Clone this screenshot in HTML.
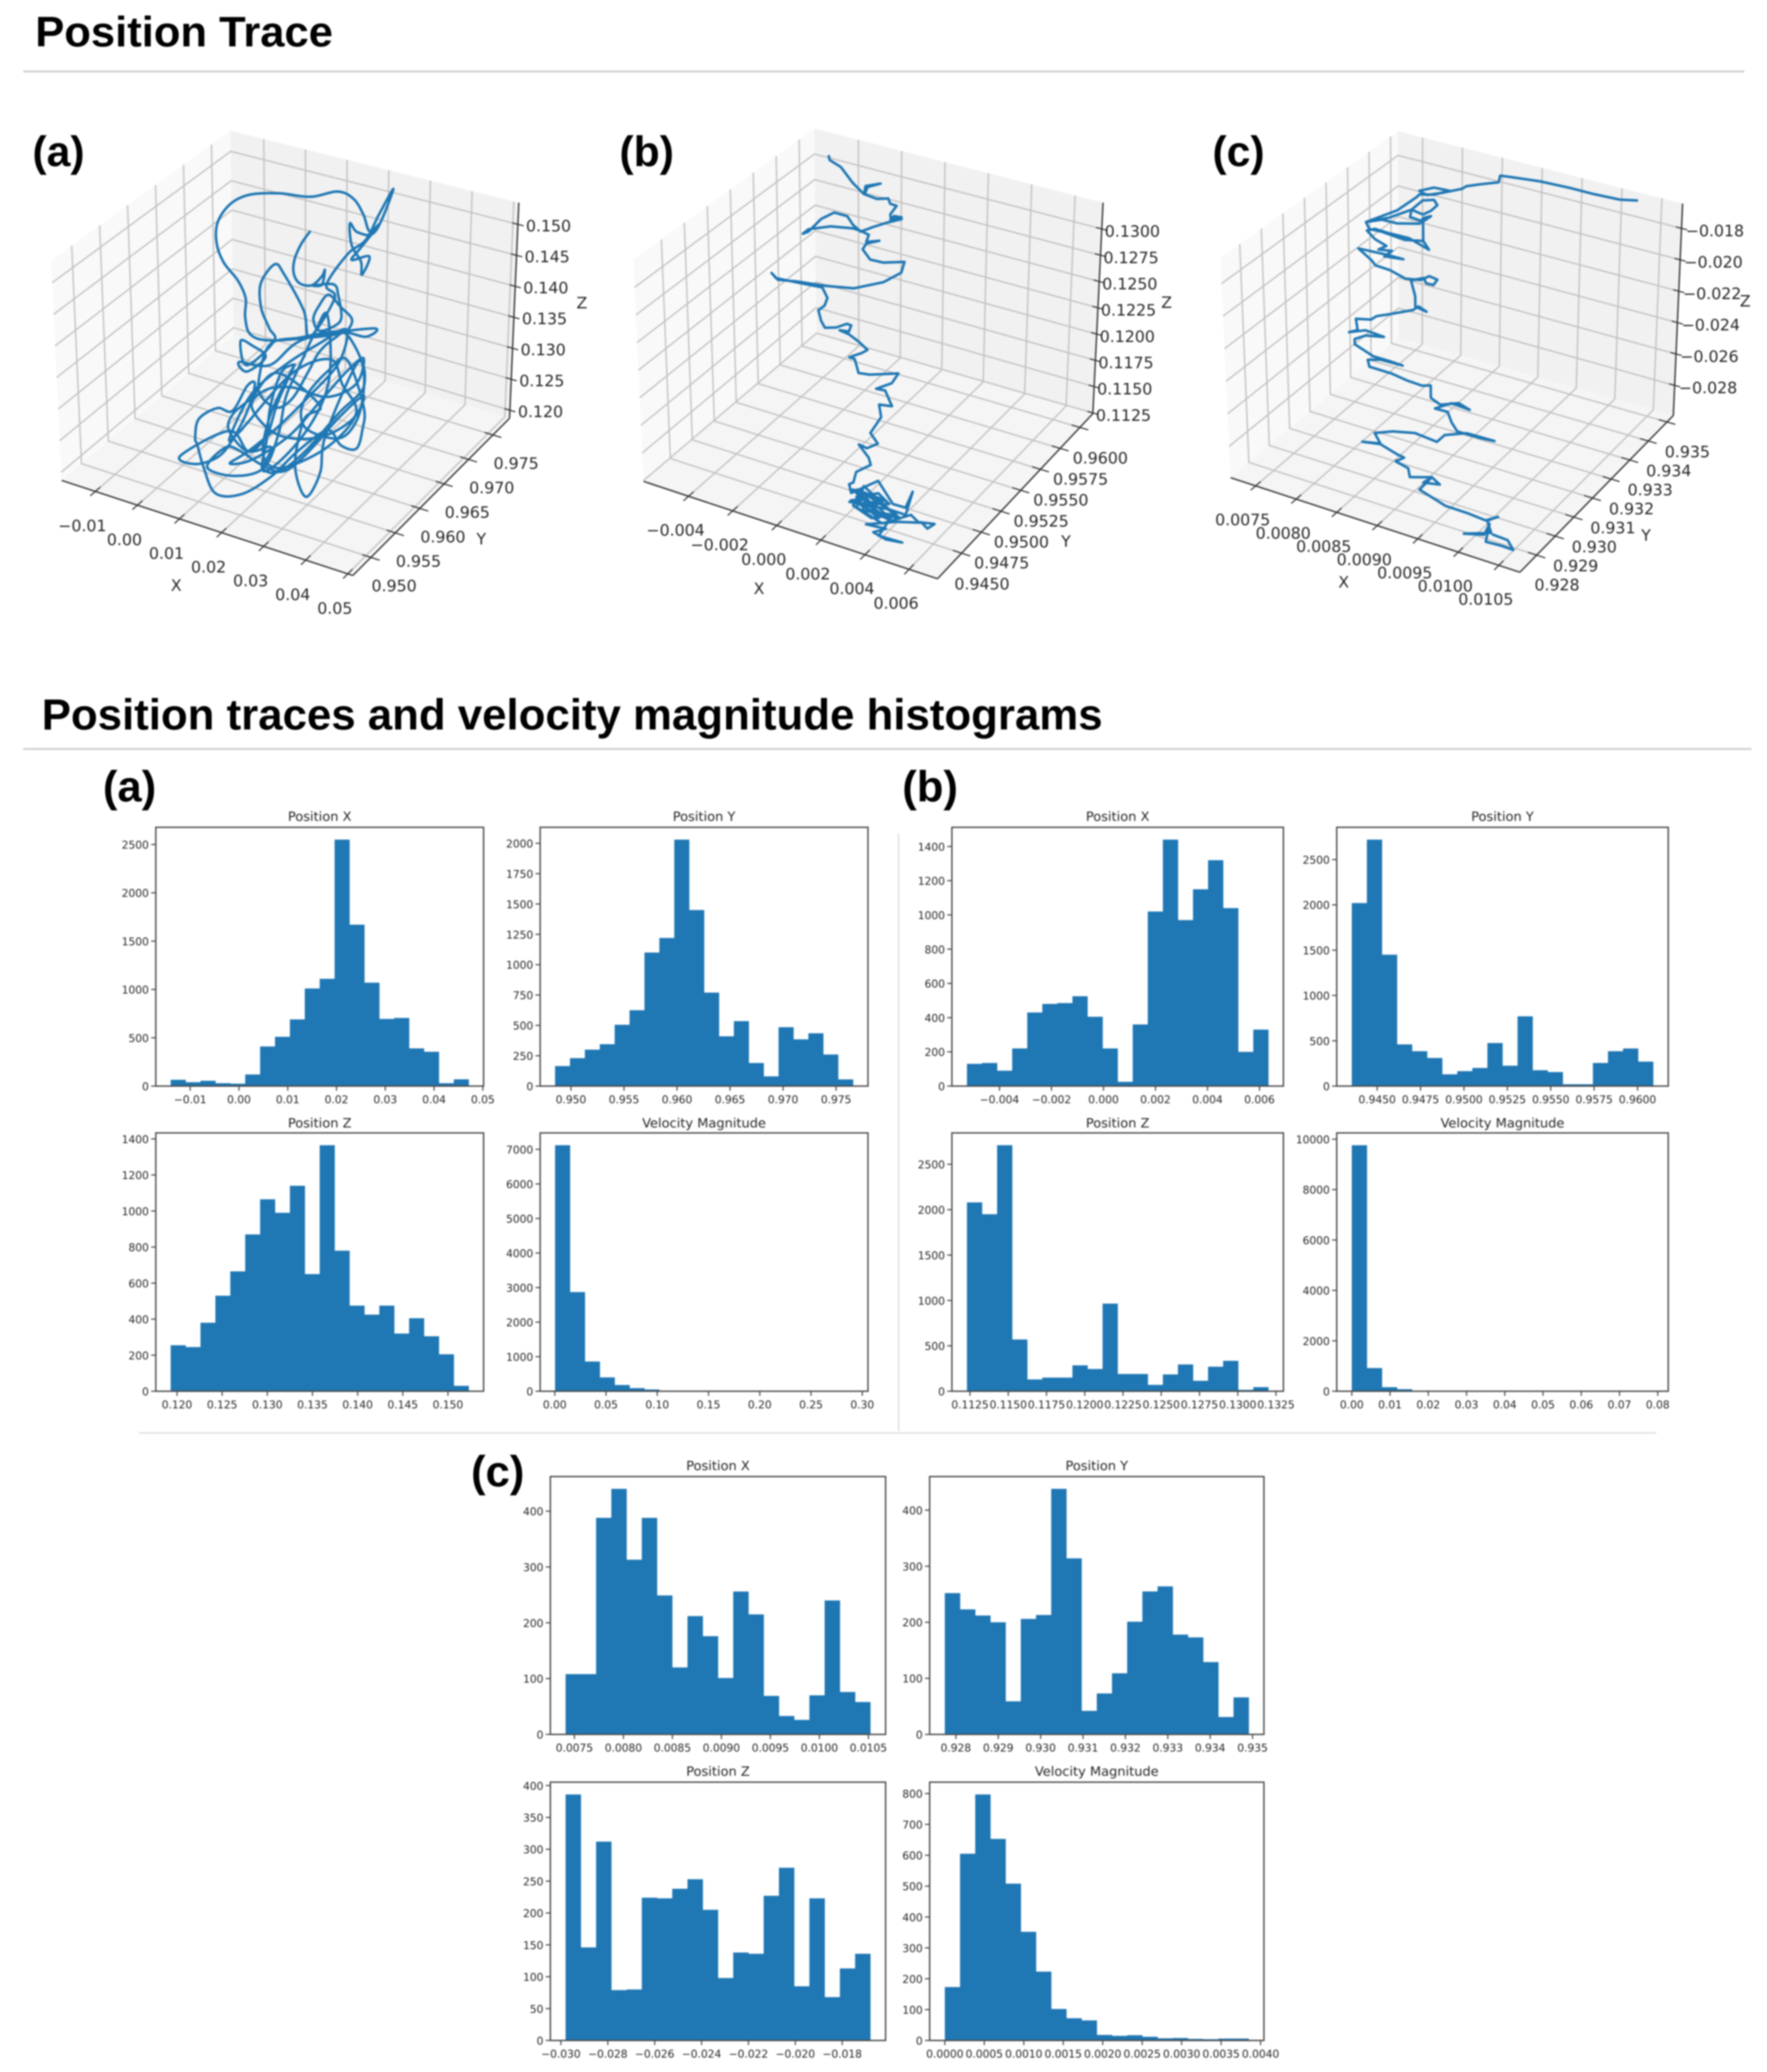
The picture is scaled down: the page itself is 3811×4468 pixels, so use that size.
<!DOCTYPE html>
<html lang="en">
<head>
<meta charset="utf-8">
<title>Position traces and velocity magnitude histograms</title>
<style>
html,body{margin:0;padding:0;background:#fff;}
svg{display:block;filter:blur(1.5px);}
.head{font-family:"Liberation Sans",sans-serif;font-weight:700;fill:#000;}
.mpl{font-family:"DejaVu Sans",sans-serif;fill:#262626;}
</style>
</head>
<body>
<svg id="figure" xmlns="http://www.w3.org/2000/svg" width="3811" height="4468" viewBox="0 0 3811 4468">
  <rect x="0" y="0" width="3811" height="4468" fill="#ffffff"/>
  <text class="head" x="76" y="100" font-size="92" textLength="642" lengthAdjust="spacingAndGlyphs">Position Trace</text>
  <line x1="50" y1="154" x2="3762" y2="154" stroke="#cfcfcf" stroke-width="4"/>
  <text class="head" x="70" y="358" font-size="92">(a)</text>
  <text class="head" x="1336" y="358" font-size="92">(b)</text>
  <text class="head" x="2615" y="358" font-size="92">(c)</text>
  <text class="head" x="90" y="1573" font-size="94" textLength="2288" lengthAdjust="spacingAndGlyphs">Position traces and velocity magnitude histograms</text>
  <line x1="50" y1="1615" x2="3778" y2="1615" stroke="#cfcfcf" stroke-width="4"/>
  <line x1="1938" y1="1797" x2="1938" y2="3086" stroke="#dddddd" stroke-width="3"/>
  <line x1="300" y1="3090" x2="3572" y2="3090" stroke="#dddddd" stroke-width="3"/>
  <text class="head" x="222" y="1728" font-size="94">(a)</text>
  <text class="head" x="1946" y="1728" font-size="94">(b)</text>
  <text class="head" x="1016" y="3205" font-size="94">(c)</text>
</svg>
<script>
/* ---------- histogram data ---------- */
const histAXCounts=[65,40,55,30,25,120,410,510,690,1010,1110,2550,1670,1070,695,705,390,355,30,70];
const histAYCounts=[165,230,300,345,505,625,1100,1220,2030,1450,770,410,535,190,80,485,385,435,260,55];
const histAZCounts=[255,245,380,530,665,870,1065,990,1140,650,1365,780,475,425,475,320,405,305,205,30];
const histAVCounts=[7120,2870,860,400,180,90,50,20,10,5,3,2,1,1,1,1,1,0,0,1];
const histBXCounts=[130,135,90,220,430,480,485,525,405,220,25,360,1020,1440,970,1150,1320,1040,200,330];
const histBYCounts=[2020,2720,1450,460,385,310,130,165,200,475,225,770,175,155,20,20,255,385,415,270];
const histBZCounts=[2080,1950,2710,570,130,150,150,285,245,965,190,190,70,185,295,115,270,335,15,45];
const histBVCounts=[9760,920,160,80,20,10,5,3,2,1,1,1,1,0,0,0,0,0,0,1];
const histCXCounts=[108,108,388,440,313,388,249,120,212,176,101,256,215,69,33,26,70,240,76,58];
const histCYCounts=[252,223,212,200,59,206,213,438,314,42,73,109,201,255,264,178,173,129,31,66];
const histCZCounts=[386,146,312,79,80,224,223,238,253,205,98,138,136,227,271,85,223,68,113,136];
const histCVCounts=[173,605,797,653,508,352,223,102,72,65,18,15,17,12,7,8,5,4,6,6];

const histAXRange=[-0.0140,0.0471];
const histAYRange=[0.9485,0.9766];
const histAZRange=[0.1193,0.1523];
const histAVRange=[0.0003,0.2910];
const histBXRange=[-0.00525,0.00634];
const histBYRange=[0.94354,0.96090];
const histBZRange=[0.1123,0.1320];
const histBVRange=[0,0.0788];
const histCXRange=[0.00741,0.01052];
const histCYRange=[0.92774,0.93491];
const histCZRange=[-0.0298,-0.0168];
const histCVRange=[0.0000,0.00385];

const histAXTicks=['\u22120.01','0.00','0.01','0.02','0.03','0.04','0.05'];
const histAYTicks=['0.950','0.955','0.960','0.965','0.970','0.975'];
const histAZTicks=['0.120','0.125','0.130','0.135','0.140','0.145','0.150'];
const histAVTicks=['0.00','0.05','0.10','0.15','0.20','0.25','0.30'];
const histBXTicks=['\u22120.004','\u22120.002','0.000','0.002','0.004','0.006'];
const histBYTicks=['0.9450','0.9475','0.9500','0.9525','0.9550','0.9575','0.9600'];
const histBZTicks=['0.1125','0.1150','0.1175','0.1200','0.1225','0.1250','0.1275','0.1300','0.1325'];
const histBVTicks=['0.00','0.01','0.02','0.03','0.04','0.05','0.06','0.07','0.08'];
const histCXTicks=['0.0075','0.0080','0.0085','0.0090','0.0095','0.0100','0.0105'];
const histCYTicks=['0.928','0.929','0.930','0.931','0.932','0.933','0.934','0.935'];
const histCZTicks=['\u22120.030','\u22120.028','\u22120.026','\u22120.024','\u22120.022','\u22120.020','\u22120.018'];
const histCVTicks=['0.0000','0.0005','0.0010','0.0015','0.0020','0.0025','0.0030','0.0035','0.0040'];

const countTicks2500=[0,500,1000,1500,2000,2500];
const countTicks2000=[0,250,500,750,1000,1250,1500,1750,2000];
const countTicks1400=[0,200,400,600,800,1000,1200,1400];
const countTicks7000=[0,1000,2000,3000,4000,5000,6000,7000];
const countTicks10000=[0,2000,4000,6000,8000,10000];
const countTicks400=[0,100,200,300,400];
const countTicks400Fine=[0,50,100,150,200,250,300,350,400];
const countTicks800=[0,100,200,300,400,500,600,700,800];

/* ---------- 3D trace data ---------- */
const traceAX=[.0220,.0199,.0183,.0181,.0195,.0224,.0248,.0255,.0248,.0227,
.0276,.0287,.0294,.0278,.0241,.0227,.0241,.0264,.0292,.0319,
.0310,.0287,.0222,.0121,.0075,.0063,.0065,.0047,.0014,-.0002,
.0002,.0033,.0079,.0148,.0222,.0287,.0324,.0347,.0361,.0384,
.0338,.0319,.0361,.0343,.0341,.0319,.0315,.0333,.0375,.0417,
.0384,.0352,.0310,.0259,.0278,.0218,.0204,.0158,.0136,.0102,
.0102,.0121,.0132,.0065,.0051,.0079,.0111,.0065,.0047,.0121,
.0204,.0370,.0352,.0287,.0195,.0121,.0093,.0102,.0139,.0176,
.0213,.0241,.0278,.0306,.0343,.0347,.0329,.0287,.0213,.0195,
.0213,.0259,.0306,.0347,.0344,.0329,.0292,.0259,.0185,.0121,
.0047,-.0018,-.0046,-.0060,-.0065,-.0055,-.0009,.0028,.0065,.0084,
.0065,.0028,-.0009,-.0065,-.0103,.0019,.0065,.0121,.0102,.0139,
.0204,.0287,.0347,.0333,
.0255,.0241,.0208,.0185,.0181,.0204,.0241,.0139,.0075,.0028,
.0019,.0065,.0111,.0139,.0181,.0121,.0102,.0148,.0259,.0329,
.0296,.0268,.0176,.0065,.0047,
.0019,.0075,.0158,.0241,.0306,.0287,.0213,.0139,.0065,.0019,
.0075,.0167,.0241,.0306,.0347,.0329,.0259,.0176,.0111,.0075,
.0121,.0185,.0259,.0324,.0347,.0287,.0204,.0148,.0093,.0047,
.0010,-.0037,.0028,.0102,.0139,.0158,.0185,.0204,.0232,.0259,
.0268,.0259,.0227,.0176,.0121,.0098,.0111,.0121,.0148,.0176];
const traceAZ=[.1543,.1520,.1493,.1471,.1458,.1460,.1478,.1489,.1465,.1460,
.1470,.1454,.1422,.1406,.1392,.1408,.1431,.1452,.1438,.1424,
.1406,.1395,.1378,.1355,.1356,.1382,.1412,.1437,.1460,.1489,
.1523,.1557,.1579,.1592,.1598,.1616,.1610,.1589,.1566,.1580,
.1535,.1515,.1527,.1496,.1516,.1538,.1571,.1560,.1568,.1639,
.1596,.1551,.1523,.1467,.1449,.1378,.1417,.1466,.1478,.1442,
.1403,.1374,.1356,.1305,.1341,.1339,.1327,.1295,.1307,.1316,
.1372,.1418,.1402,.1399,.1373,.1348,.1284,.1260,.1252,.1275,
.1322,.1359,.1387,.1398,.1361,.1316,.1267,.1233,.1231,.1253,
.1289,.1331,.1359,.1294,.1257,.1225,.1223,.1240,.1192,.1140,
.1096,.1083,.1119,.1152,.1162,.1195,.1222,.1225,.1272,.1279,
.1233,.1180,.1144,.1120,.1125,.1191,.1168,.1186,.1149,.1151,
.1196,.1272,.1323,.1359,
.1232,.1171,.1126,.1147,.1185,.1248,.1275,.1307,.1255,.1219,
.1191,.1168,.1203,.1261,.1328,.1238,.1169,.1159,.1214,.1280,
.1318,.1352,.1314,.1214,.1197,
.1178,.1261,.1323,.1372,.1405,.1350,.1283,.1222,.1168,.1139,
.1157,.1214,.1281,.1340,.1368,.1325,.1292,.1291,.1275,.1242,
.1212,.1212,.1233,.1272,.1310,.1265,.1190,.1153,.1154,.1164,
.1163,.1121,.1121,.1149,.1209,.1271,.1316,.1346,.1390,.1422,
.1359,.1305,.1252,.1197,.1153,.1148,.1197,.1251,.1309,.1327];
const traceADepthY=0.96235;

const traceBX=[-.00121,-.00118,-.00067,-.00016,.00036,.00044,.00112,.00053,.00039,.00095,
.00146,.00155,.00184,.00155,.00158,.00206,.00172,.00155,.00206,.00138,
.00078,.00019,-.00016,-.00041,-.00101,-.00161,-.0022,-.00246,-.0022,-.00118,
-.00016,.00019,.00056,.00044,.00104,.00044,.00027,.00061,.00121,.00218,
.00203,.00121,-.00016,-.00152,-.00271,-.00365,-.00394,-.00374,-.00271,-.00161,
-.00138,-.00152,-.00181,-.00169,-.00152,-.00101,-.0005,-.0003,-.00041,-.00084,
-.00041,.00001,.00044,.00019,-.00041,-.00016,.00001,.00053,.00186,.00155,
.00082,.00124,.00155,.00095,.00104,.00053,.00087,.00036,-.00002,.00044,
.00053,-.00016,-.0003,-.0005,-.00041,.00087,.00155,.00215,.00249,.00215,
.00138,-.0005,.00053,.00146,.00019,-.00016,.00104,.0024,.00274,.00351,
.00317,.00291,.00172,.00027,.00121,.00061,.00121,.00198,.00087,.00155,
.00019,-.00016,.00121,.00001,.00087,.00053,
-.00041,.00053,.00155,.00087,.00001,-.00033,.0007,.00172,.00053,-.00033,
.00019,.00121,.00189,.00104,.00019,-.00016,.00087,.00138,.00053,.00001];
const traceBZ=[.13857,.13823,.13783,.13668,.13587,.13666,.13723,.13661,.13588,.13574,
.13605,.13561,.13557,.13464,.13418,.13463,.13458,.13416,.13447,.13379,
.1331,.13235,.13279,.13345,.13347,.13256,.13107,.13074,.13129,.13211,
.13247,.13242,.13226,.13154,.13197,.13138,.13078,.13002,.13006,.13065,
.12959,.12828,.12696,.12645,.12616,.12581,.12628,.12591,.12606,.12624,
.1254,.12461,.12402,.12311,.12257,.12288,.12351,.12348,.12286,.12273,
.1226,.12221,.12166,.12124,.12049,.12048,.11929,.11944,.12032,.11925,
.11832,.11841,.11715,.11695,.11586,.1141,.11333,.1126,.11272,.11178,
.11118,.11011,.10906,.10877,.10802,.10993,.10824,.10827,.10994,.10762,
.10764,.10715,.10859,.10754,.10903,.10687,.10614,.10778,.10734,.10764,
.10701,.10738,.10672,.10558,.10576,.10507,.10479,.105,.10491,.10726,
.10676,.10849,.10835,.10731,.10653,.10729,
.10737,.10697,.10662,.1075,.10795,.10839,.10814,.10736,.10632,.10693,
.10838,.1077,.10715,.10695,.10773,.10784,.1088,.10813,.10762,.1086];
const traceBDepthY=0.9518;

const traceCX=[.01124,.01103,.0107,.01042,.01005,.00968,.00956,.00954,.0093,.00914,
.00909,.00884,.00865,.00856,.00874,.00893,.00874,.00856,.00852,.00828,
.00789,.00818,.00846,.0086,.00874,.00878,.0087,.0086,.00846,.00844,
.0086,.0087,.0086,.00856,.00828,.00809,.00789,.00793,.00809,.00837,
.0086,.0086,.0086,.00867,.00842,.00818,.008,.0079,.008,.00814,
.00804,.00821,.00811,.00835,.00814,.00779,.00795,.008,.00818,.00837,
.00856,.00867,.00877,.00872,.00863,.0086,.00844,.00849,.00849,.00863,
.00853,.00846,.00818,.008,.00793,.00774,.00776,.00765,.00786,.00809,
.00786,.00772,.00772,.00795,.00816,.00832,.00804,.00788,.0079,.00818,
.00837,.00856,.00867,.00867,.00879,.00902,.00916,.00893,.00872,.00888,
.00893,.009,.0093,.00947,.00912,.00884,.00874,.00846,.00818,.00795,
.00802,.00779,.00802,.00823,.00832,.00821,.00837,.00839,.00867,.00856,
.00877,.00867,.00851,.00884,.00912,.00935,.00951,.00937,.00942,.00907,
.00933,.0094,.00935,.00954,.0097,.00963,.00944];
const traceCZ=[-.01168,-.01188,-.01193,-.01191,-.01196,-.01214,-.01221,-.01264,-.01307,-.01338,
-.0136,-.01417,-.01455,-.0144,-.01397,-.01392,-.01441,-.01462,-.01486,-.01598,
-.01722,-.01656,-.0157,-.01494,-.01473,-.01501,-.01546,-.01582,-.0157,-.01618,
-.01626,-.01579,-.01604,-.01644,-.01679,-.01681,-.01722,-.0176,-.01757,-.0177,
-.01746,-.01626,-.01746,-.01791,-.01752,-.01754,-.0175,-.01774,-.01815,-.01838,
-.01874,-.0186,-.01907,-.01893,-.01893,-.01901,-.01953,-.01979,-.01984,-.02011,
-.01994,-.01955,-.01963,-.02003,-.02005,-.01976,-.02012,-.02103,-.02169,-.02181,
-.02162,-.02194,-.02258,-.02297,-.02328,-.0235,-.02418,-.02447,-.02405,-.02414,
-.02438,-.0248,-.02513,-.02555,-.02556,-.0256,-.02563,-.02587,-.02628,-.0263,
-.02645,-.0265,-.02633,-.0271,-.02735,-.02691,-.02713,-.02705,-.02768,-.02766,
-.02825,-.02869,-.02867,-.02859,-.02862,-.02915,-.02972,-.02959,-.02991,-.03036,
-.03091,-.03115,-.03095,-.03126,-.03134,-.03173,-.03192,-.03244,-.03202,-.03252,
-.03232,-.03202,-.03303,-.03353,-.03355,-.03364,-.03318,-.03361,-.0343,-.03489,
-.03455,-.03378,-.03495,-.03489,-.03491,-.03442,-.03437];
const traceCDepthY=0.93122;

const trace3dAXTicks=['\u22120.01','0.00','0.01','0.02','0.03','0.04','0.05'];
const trace3dAYTicks=['0.950','0.955','0.960','0.965','0.970','0.975'];
const trace3dAZTicks=['0.120','0.125','0.130','0.135','0.140','0.145','0.150'];
const trace3dBXTicks=['\u22120.004','\u22120.002','0.000','0.002','0.004','0.006'];
const trace3dBYTicks=['0.9450','0.9475','0.9500','0.9525','0.9550','0.9575','0.9600'];
const trace3dBZTicks=['0.1125','0.1150','0.1175','0.1200','0.1225','0.1250','0.1275','0.1300'];
const trace3dCXTicks=['0.0075','0.0080','0.0085','0.0090','0.0095','0.0100','0.0105'];
const trace3dCYTicks=['0.928','0.929','0.930','0.931','0.932','0.933','0.934','0.935'];
const trace3dCZTicks=['\u22120.028','\u22120.026','\u22120.024','\u22120.022','\u22120.020','\u22120.018'];

/* ---------- layout ---------- */
const histPanels=[
 {id:'a-position-x',title:'Position X',box:[336,1784,707,558],titleY:1770,counts:histAXCounts,range:histAXRange,xt:histAXTicks,yt:countTicks2500},
 {id:'a-position-y',title:'Position Y',box:[1165,1784,707,558],titleY:1770,counts:histAYCounts,range:histAYRange,xt:histAYTicks,yt:countTicks2000},
 {id:'a-position-z',title:'Position Z',box:[336,2443,707,557],titleY:2431,counts:histAZCounts,range:histAZRange,xt:histAZTicks,yt:countTicks1400},
 {id:'a-velocity',title:'Velocity Magnitude',box:[1165,2443,707,557],titleY:2431,counts:histAVCounts,range:histAVRange,xt:histAVTicks,yt:countTicks7000},
 {id:'b-position-x',title:'Position X',box:[2053,1784,715,558],titleY:1770,counts:histBXCounts,range:histBXRange,xt:histBXTicks,yt:countTicks1400},
 {id:'b-position-y',title:'Position Y',box:[2883,1784,715,558],titleY:1770,counts:histBYCounts,range:histBYRange,xt:histBYTicks,yt:countTicks2500},
 {id:'b-position-z',title:'Position Z',box:[2053,2443,715,557],titleY:2431,counts:histBZCounts,range:histBZRange,xt:histBZTicks,yt:countTicks2500},
 {id:'b-velocity',title:'Velocity Magnitude',box:[2883,2443,715,557],titleY:2431,counts:histBVCounts,range:histBVRange,xt:histBVTicks,yt:countTicks10000},
 {id:'c-position-x',title:'Position X',box:[1187,3184,723,556],titleY:3170,counts:histCXCounts,range:histCXRange,xt:histCXTicks,yt:countTicks400},
 {id:'c-position-y',title:'Position Y',box:[2005,3184,721,556],titleY:3170,counts:histCYCounts,range:histCYRange,xt:histCYTicks,yt:countTicks400},
 {id:'c-position-z',title:'Position Z',box:[1187,3843,723,557],titleY:3829,counts:histCZCounts,range:histCZRange,xt:histCZTicks,yt:countTicks400Fine},
 {id:'c-velocity',title:'Velocity Magnitude',box:[2005,3843,721,557],titleY:3829,counts:histCVCounts,range:histCVRange,xt:histCVTicks,yt:countTicks800}
];

const tracePlots=[
 {id:'a',smooth:true,xs:traceAX,zs:traceAZ,depth:traceADepthY,
  xlim:[-0.018,0.0512],ylim:[0.9463,0.9784],zlim:[0.1187,0.1535],
  xt:trace3dAXTicks,yt:trace3dAYTicks,zt:trace3dAZTicks,
  A:[133,1036],At:[110,562],K:[504,723],Kt:[497,282],B:[761,1241],Bt:[750,714],R:[1099,902],Rt:[1119,437],
  xOff:[-28,75],yOff:[50,62],zOff:[66,4],xLab:[380,1263],yLab:[1038,1163],zLab:[1255,654]},
 {id:'b',smooth:false,xs:traceBX,zs:traceBZ,depth:traceBDepthY,
  xlim:[-0.00604,0.00729],ylim:[0.94195,0.96164],zlim:[0.11243,0.1325],
  xt:trace3dBXTicks,yt:trace3dBYTicks,zt:trace3dBZTicks,
  A:[1388,1038],At:[1366,560],K:[1761,720],Kt:[1756,277],B:[2022,1248],Bt:[2006,732],R:[2357,892],Rt:[2379,437],
  xOff:[-28,74],yOff:[44,67],zOff:[66,6],xLab:[1637,1270],yLab:[2299,1168],zLab:[2516,653]},
 {id:'c',smooth:false,xs:traceCX,zs:traceCZ,depth:traceCDepthY,
  xlim:[0.00719,0.01076],ylim:[0.9271,0.93534],zlim:[-0.02992,-0.01642],
  xt:trace3dCXTicks,yt:trace3dCYTicks,zt:trace3dCZTicks,
  A:[2654,1030],At:[2632,556],K:[3016,728],Kt:[3015,283],B:[3278,1234],Bt:[3262,724],R:[3609,896],Rt:[3629,439],
  xOff:[-28,74],yOff:[44,65],zOff:[72,6],xLab:[2898,1256],yLab:[3550,1155],zLab:[3764,650]}
];

const NS='http://www.w3.org/2000/svg';
const BLUE='#1f77b4';
const root=document.getElementById('figure');

function make(parent,tag,attrs,text){
  const el=document.createElementNS(NS,tag);
  for(const k in attrs){el.setAttribute(k,attrs[k]);}
  if(text!==undefined){el.textContent=text;}
  parent.appendChild(el);
  return el;
}
function num(label){return parseFloat(String(label).replace('\u2212','-'));}

/* ---------- histograms ---------- */
function drawHist(p){
  const g=make(root,'g',{});
  
  
  const left=p.box[0],top=p.box[1],w=p.box[2],h=p.box[3];
  const lo=p.range[0],hi=p.range[1];
  const pad=(hi-lo)*0.05;
  const xScale=v=>left+(v-(lo-pad))/((hi-lo)+2*pad)*w;
  const yMax=Math.max.apply(null,p.counts)*1.05;
  const yScale=v=>top+h-(v/yMax)*h;
  const n=p.counts.length;
  const step=(hi-lo)/n;

  p.counts.forEach((c,i)=>{
    const x0=xScale(lo+i*step),x1=xScale(lo+(i+1)*step),y=yScale(c);
    const bar=make(g,'rect',{x:x0,y:y,width:x1-x0+0.4,height:top+h-y,fill:BLUE});
    
    
  });

  const frame=make(g,'rect',{x:left,y:top,width:w,height:h,fill:'none',stroke:'#4a4a4a','stroke-width':3});
  
  

  const title=make(g,'text',{x:left+w/2,y:p.titleY,'text-anchor':'middle','font-size':28,class:'mpl'},p.title);
  
  

  p.xt.forEach(label=>{
    const x=xScale(num(label));
    const tick=make(g,'line',{x1:x,y1:top+h,x2:x,y2:top+h+10,stroke:'#4a4a4a','stroke-width':2.5});
    
    
    const t=make(g,'text',{x:x,y:top+h+37,'text-anchor':'middle','font-size':23,class:'mpl'},label);
    
    
  });
  p.yt.forEach(v=>{
    const y=yScale(v);
    const tick=make(g,'line',{x1:left-10,y1:y,x2:left,y2:y,stroke:'#4a4a4a','stroke-width':2.5});
    
    
    const t=make(g,'text',{x:left-15,y:y+9,'text-anchor':'end','font-size':23,class:'mpl'},String(v));
    
    
  });
}
histPanels.forEach(drawHist);

/* ---------- 3D traces ---------- */
function projector(p){
  return function(x,y,z){
    const u=(x-p.xlim[0])/(p.xlim[1]-p.xlim[0]);
    const v=(y-p.ylim[0])/(p.ylim[1]-p.ylim[0]);
    const w=(z-p.zlim[0])/(p.zlim[1]-p.zlim[0]);
    const out=[0,0];
    for(let i=0;i<2;i++){
      const lowF=p.A[i]*(1-u)+p.B[i]*u, lowB=p.K[i]*(1-u)+p.R[i]*u;
      const topF=p.At[i]*(1-u)+p.Bt[i]*u, topB=p.Kt[i]*(1-u)+p.Rt[i]*u;
      const low=lowF*(1-v)+lowB*v, high=topF*(1-v)+topB*v;
      out[i]=low*(1-w)+high*w;
    }
    return out;
  };
}
function poly(pts){return pts.map(a=>a[0].toFixed(1)+','+a[1].toFixed(1)).join(' ');}
function smoothPath(pts){
  let d='M'+pts[0][0].toFixed(1)+' '+pts[0][1].toFixed(1);
  for(let i=0;i<pts.length-1;i++){
    const p0=pts[Math.max(0,i-1)],p1=pts[i],p2=pts[i+1],p3=pts[Math.min(pts.length-1,i+2)];
    const c1=[p1[0]+(p2[0]-p0[0])/6,p1[1]+(p2[1]-p0[1])/6];
    const c2=[p2[0]-(p3[0]-p1[0])/6,p2[1]-(p3[1]-p1[1])/6];
    d+=' C'+c1[0].toFixed(1)+' '+c1[1].toFixed(1)+' '+c2[0].toFixed(1)+' '+c2[1].toFixed(1)+' '+p2[0].toFixed(1)+' '+p2[1].toFixed(1);
  }
  return d;
}
function drawTrace(p){
  const g=make(root,'g',{});
  
  
  const P=projector(p);
  const [x0,x1]=p.xlim,[y0,y1]=p.ylim,[z0,z1]=p.zlim;
  const gridColor='#c2c2c2';

  const paneLeft=make(g,'polygon',{points:poly([P(x0,y0,z0),P(x0,y1,z0),P(x0,y1,z1),P(x0,y0,z1)]),fill:'#f9f9f9'});
  
  
  const paneBack=make(g,'polygon',{points:poly([P(x0,y1,z0),P(x1,y1,z0),P(x1,y1,z1),P(x0,y1,z1)]),fill:'#f1f1f1'});
  
  
  const paneFloor=make(g,'polygon',{points:poly([P(x0,y0,z0),P(x1,y0,z0),P(x1,y1,z0),P(x0,y1,z0)]),fill:'#f5f5f5'});
  
  

  p.xt.forEach(label=>{
    const v=num(label);
    const line=make(g,'polyline',{points:poly([P(v,y0,z0),P(v,y1,z0),P(v,y1,z1)]),fill:'none',stroke:gridColor,'stroke-width':3});
    
    
  });
  p.yt.forEach(label=>{
    const v=num(label);
    const line=make(g,'polyline',{points:poly([P(x1,v,z0),P(x0,v,z0),P(x0,v,z1)]),fill:'none',stroke:gridColor,'stroke-width':3});
    
    
  });
  p.zt.forEach(label=>{
    const v=num(label);
    const line=make(g,'polyline',{points:poly([P(x0,y0,v),P(x0,y1,v),P(x1,y1,v)]),fill:'none',stroke:gridColor,'stroke-width':3});
    
    
  });

  const axisX=make(g,'polyline',{points:poly([P(x0,y0,z0),P(x1,y0,z0)]),fill:'none',stroke:'#333','stroke-width':3});
  
  
  const axisY=make(g,'polyline',{points:poly([P(x1,y0,z0),P(x1,y1,z0)]),fill:'none',stroke:'#333','stroke-width':3});
  
  
  const axisZ=make(g,'polyline',{points:poly([P(x1,y1,z0),P(x1,y1,z1)]),fill:'none',stroke:'#333','stroke-width':3});
  
  

  const dy=(y1-y0)*0.03,dx=(x1-x0)*0.03,dxz=(x1-x0)*0.02;
  p.xt.forEach(label=>{
    const v=num(label),q=P(v,y0,z0);
    const tick=make(g,'polyline',{points:poly([P(v,y0+dy,z0),P(v,y0-dy,z0)]),fill:'none',stroke:'#333','stroke-width':2.5});
    
    
    const t=make(g,'text',{x:q[0]+p.xOff[0],y:q[1]+p.xOff[1],'text-anchor':'middle','dominant-baseline':'central','font-size':34,class:'mpl'},label);
    
    
  });
  p.yt.forEach(label=>{
    const v=num(label),q=P(x1,v,z0);
    const tick=make(g,'polyline',{points:poly([P(x1-dx,v,z0),P(x1+dx,v,z0)]),fill:'none',stroke:'#333','stroke-width':2.5});
    
    
    const t=make(g,'text',{x:q[0]+p.yOff[0],y:q[1]+p.yOff[1],'text-anchor':'middle','dominant-baseline':'central','font-size':34,class:'mpl'},label);
    
    
  });
  p.zt.forEach(label=>{
    const v=num(label),q=P(x1,y1,v);
    const tick=make(g,'polyline',{points:poly([P(x1-dxz,y1,v),P(x1+dxz,y1,v)]),fill:'none',stroke:'#333','stroke-width':2.5});
    
    
    const t=make(g,'text',{x:q[0]+p.zOff[0],y:q[1]+p.zOff[1],'text-anchor':'middle','dominant-baseline':'central','font-size':34,class:'mpl'},label);
    
    
  });

  const xTitle=make(g,'text',{x:p.xLab[0],y:p.xLab[1],'text-anchor':'middle','dominant-baseline':'central','font-size':34,class:'mpl'},'X');
  
  
  const yTitle=make(g,'text',{x:p.yLab[0],y:p.yLab[1],'text-anchor':'middle','dominant-baseline':'central','font-size':34,class:'mpl'},'Y');
  
  
  const zTitle=make(g,'text',{x:p.zLab[0],y:p.zLab[1],'text-anchor':'middle','dominant-baseline':'central','font-size':34,class:'mpl'},'Z');
  
  

  const pts=p.xs.map((x,i)=>P(x,p.depth,p.zs[i]));
  const path=make(g,'path',{d:p.smooth?smoothPath(pts):'M'+poly(pts).replace(/ /g,' L'),fill:'none',stroke:BLUE,'stroke-width':5.5,'stroke-linejoin':'round','stroke-linecap':'round'});
  
  
}
tracePlots.forEach(drawTrace);
</script>
</body>
</html>
